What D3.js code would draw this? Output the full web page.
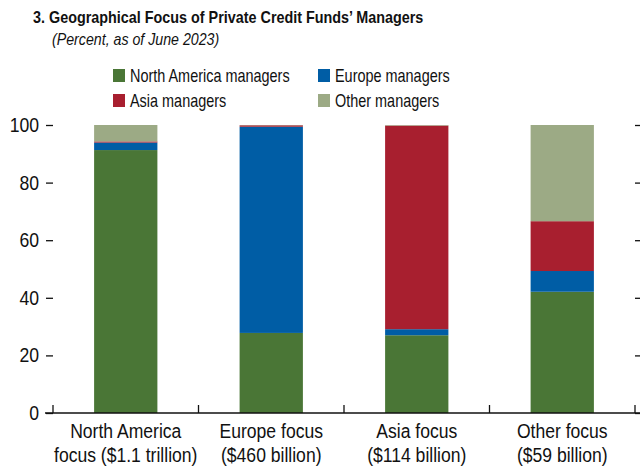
<!DOCTYPE html>
<meta charset="utf-8">
<script src="https://d3js.org/d3.v7.min.js"></script>
<style>
  body { margin: 0; background: #fff; }
  svg text { font-family: "Liberation Sans", Arial, sans-serif; fill: #111; }
  .title { font-size: 17px; font-weight: bold; }
  .subtitle { font-size: 16.5px; font-style: italic; }
  .legends { font-size: 18.5px; }
  .axis text { font-size: 20px; }
  .xlabels text { font-size: 19.5px; }
</style>
<div id="my_dataviz"></div>
<script>

// chart data
var categories = ["North America focus ($1.1 trillion)", "Europe focus ($460 billion)", "Asia focus ($114 billion)", "Other focus ($59 billion)"];
var catLine1 = ["North America", "Europe focus", "Asia focus", "Other focus"];
var catLine2 = ["focus ($1.1 trillion)", "($460 billion)", "($114 billion)", "($59 billion)"];
var seriesNames = ["North America managers", "Europe managers", "Asia managers", "Other managers"];
var northAmerica = [91.3, 27.8, 27.0, 42.1];
var europe = [2.6, 71.6, 2.1, 7.2];
var asia = [0.4, 0.5, 70.7, 17.3];
var other = [5.7, 0.1, 0.2, 33.4];
var yTicks = [0, 20, 40, 60, 80, 100];
var colors = ["#4a7636", "#005da5", "#a81f2f", "#9caa85"];

var width = 640, height = 468;
var margin = {top: 125, right: 5, bottom: 55, left: 53};

// no narrow font installed, so squeeze the glyphs horizontally
function condense(sel, ratio) {
  sel.each(function() {
    var len = this.getComputedTextLength();
    d3.select(this).attr("textLength", len * ratio).attr("lengthAdjust", "spacingAndGlyphs");
  });
}

var svg = d3.select("#my_dataviz")
  .append("svg")
    .attr("width", width)
    .attr("height", height);

// title
svg.append("text").attr("class", "title").attr("x", 33).attr("y", 23)
  .text("3. Geographical Focus of Private Credit Funds\u2019 Managers")
  .call(condense, 0.845);
svg.append("text").attr("class", "subtitle").attr("x", 52).attr("y", 45)
  .text("(Percent, as of June 2023)")
  .call(condense, 0.86);

// legend
var legendPos = [[113, 69], [318, 69], [113, 94], [318, 94]];
var legend = svg.selectAll(".legends")
  .data(seriesNames)
  .enter()
  .append("g")
    .classed("legends", true)
    .attr("transform", function(d, i) { return "translate(" + legendPos[i][0] + "," + legendPos[i][1] + ")"; });
legend.append("rect")
  .attr("width", 12).attr("height", 13)
  .attr("fill", function(d, i) { return colors[i]; });
legend.append("text")
  .attr("x", 17).attr("y", 13)
  .text(function(d) { return d; })
  .call(condense, 0.78);

// scales
var x = d3.scaleBand()
  .domain(categories)
  .range([margin.left, width - margin.right])
  .padding(0);

var y = d3.scaleLinear()
  .domain([0, 100])
  .range([height - margin.bottom, margin.top]);

// stack data
var table = categories.map(function(c, i) {
  return {cat: c, na: northAmerica[i], eu: europe[i], as: asia[i], ot: other[i]};
});
var keys = ["na", "eu", "as", "ot"];
var stacked = d3.stack().keys(keys)(table);

var barW = x.bandwidth() * 0.435;

svg.append("g")
  .selectAll("g")
  .data(stacked)
  .enter()
  .append("g")
    .attr("fill", function(d, i) { return colors[i]; })
  .selectAll("rect")
  .data(function(d) { return d; })
  .enter()
  .append("rect")
    .attr("x", function(d) { return x(d.data.cat) + (x.bandwidth() - barW) / 2; })
    .attr("width", barW)
    .attr("y", function(d) { return y(d[1]); })
    .attr("height", function(d) { return y(d[0]) - y(d[1]); });

// left axis
var yLeft = svg.append("g")
  .attr("class", "axis")
  .attr("transform", "translate(" + margin.left + ",0)")
  .call(d3.axisLeft(y).tickValues(yTicks).tickSize(7).tickPadding(7));
yLeft.select(".domain").remove();
yLeft.selectAll("text").call(condense, 0.88);

// right axis
var yRight = svg.append("g")
  .attr("class", "axis")
  .attr("transform", "translate(" + (width - margin.right) + ",0)")
  .call(d3.axisRight(y).tickValues(yTicks).tickSize(7).tickFormat(""));
yRight.select(".domain").remove();

svg.selectAll(".axis .tick line").attr("stroke", "#111").attr("stroke-width", 1.3);

// bottom axis line
svg.append("line")
  .attr("x1", margin.left - 8).attr("x2", width)
  .attr("y1", y(0)).attr("y2", y(0))
  .attr("stroke", "#111").attr("stroke-width", 1.5);

// category separators
var seps = categories.map(function(c) { return x(c); }).concat([x.range()[1]]);
svg.append("g")
  .selectAll("line")
  .data(seps)
  .enter()
  .append("line")
    .attr("x1", function(d) { return d; }).attr("x2", function(d) { return d; })
    .attr("y1", y(0) - 8).attr("y2", y(0))
    .attr("stroke", "#111").attr("stroke-width", 1.3);

// category labels
var xl = svg.append("g").attr("class", "xlabels")
  .selectAll("text")
  .data(categories)
  .enter()
  .append("text")
    .attr("text-anchor", "middle")
    .attr("x", function(d) { return x(d) + x.bandwidth() / 2; })
    .attr("y", y(0) + 25);
xl.append("tspan")
  .attr("x", function(d) { return x(d) + x.bandwidth() / 2; })
  .text(function(d, i) { return catLine1[i]; })
  .call(condense, 0.9);
xl.append("tspan")
  .attr("x", function(d) { return x(d) + x.bandwidth() / 2; })
  .attr("dy", 23.5)
  .text(function(d, i) { return catLine2[i]; })
  .call(condense, 0.9);

</script>
